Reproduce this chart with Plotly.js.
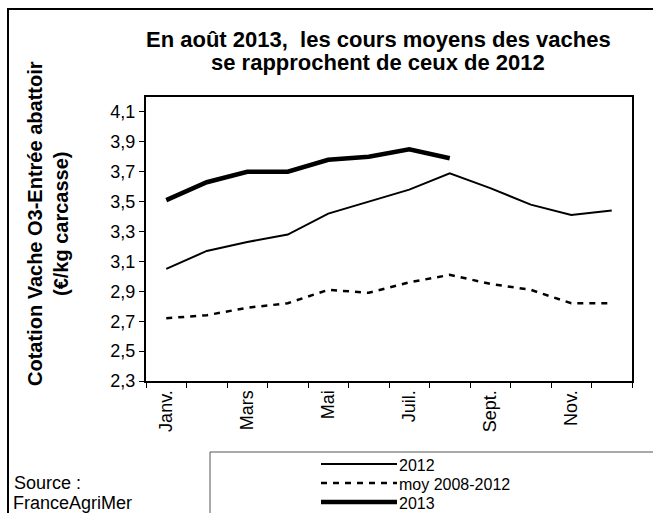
<!DOCTYPE html>
<html>
<head>
<meta charset="utf-8">
<script src="https://cdn.plot.ly/plotly-3.0.1.min.js"></script>
<style>
  body { margin: 0; background: #fff; }
  #plot { width: 653px; height: 513px; }
</style>
</head>
<body>
<div id="plot"></div>
<script>
// months on the x axis, labels shown every other month
let months = ["Janv.", "Févr.", "Mars", "Avr.", "Mai", "Juin", "Juil.", "Août", "Sept.", "Oct.", "Nov.", "Déc."];
let monthLabels = ["Janv.", "", "Mars", "", "Mai", "", "Juil.", "", "Sept.", "", "Nov.", ""];

// prices in €/kg carcasse
let prix2012 = [3.05, 3.17, 3.23, 3.28, 3.42, 3.50, 3.58, 3.69, 3.59, 3.48, 3.41, 3.44];
let prixMoy = [2.72, 2.74, 2.79, 2.82, 2.91, 2.89, 2.96, 3.01, 2.95, 2.91, 2.82, 2.82];
let prix2013 = [3.51, 3.63, 3.70, 3.70, 3.78, 3.80, 3.85, 3.79];

let seriesNames = ["2012", "moy 2008-2012", "2013"];
let yTicks = [2.3, 2.5, 2.7, 2.9, 3.1, 3.3, 3.5, 3.7, 3.9, 4.1];

let font = "'Liberation Sans', Arial, sans-serif";

// line styles shared by the traces and the hand-made legend
let styles = [
    { color: "#000", width: 2 },
    { color: "#000", width: 2.5, dash: "6px,6px" },
    { color: "#000", width: 4.5 }
];

let trace2012 = {
    x: months,
    y: prix2012,
    name: seriesNames[0],
    type: "scatter",
    mode: "lines",
    line: styles[0]
};

let traceMoy = {
    x: months,
    y: prixMoy,
    name: seriesNames[1],
    type: "scatter",
    mode: "lines",
    line: styles[1]
};

let trace2013 = {
    x: months.slice(0, prix2013.length),
    y: prix2013,
    name: seriesNames[2],
    type: "scatter",
    mode: "lines",
    line: styles[2]
};

let data = [trace2012, traceMoy, trace2013];

// plot area is 486 x 284 px, these turn pixel spots into paper coords
let px = v => (v - 146) / 486;
let py = v => (381 - v) / 284;

let shapes = [
    // outer frame (open on the right and bottom)
    { type: "rect", xref: "paper", yref: "paper", x0: px(8), x1: px(700), y0: py(560), y1: py(9),
      line: { color: "#000", width: 2 } },
    // legend box
    { type: "rect", xref: "paper", yref: "paper", x0: px(210), x1: px(700), y0: py(560), y1: py(452),
      line: { color: "#555", width: 1 } }
];

let annotations = [
    {
        text: "<b>En août 2013,  les cours moyens des vaches</b>",
        xref: "paper", yref: "paper", x: px(378), y: py(40),
        xanchor: "center", yanchor: "middle", showarrow: false, font: { size: 22 }
    },
    {
        text: "<b>se rapprochent de ceux de 2012</b>",
        xref: "paper", yref: "paper", x: px(378), y: py(63),
        xanchor: "center", yanchor: "middle", showarrow: false, font: { size: 22 }
    },
    {
        text: "<b>Cotation Vache O3-Entrée abattoir<br>(€/kg carcasse)</b>",
        xref: "paper", yref: "paper", x: px(48), y: py(224),
        xanchor: "center", yanchor: "middle", textangle: -90,
        showarrow: false, font: { size: 20 }
    },
    {
        text: "Source :",
        xref: "paper", yref: "paper", x: px(12), y: py(483),
        xanchor: "left", yanchor: "middle", showarrow: false, font: { size: 18 }
    },
    {
        text: "FranceAgriMer",
        xref: "paper", yref: "paper", x: px(12), y: py(503),
        xanchor: "left", yanchor: "middle", borderpad: 0,
        showarrow: false, font: { size: 18 }
    }
];

// hand-made legend: sample line + label for each series
let legendRows = [464, 483, 502];
seriesNames.forEach((name, i) => {
    shapes.push({
        type: "line", xref: "paper", yref: "paper",
        x0: px(321), x1: px(397), y0: py(legendRows[i]), y1: py(legendRows[i]),
        line: styles[i]
    });
    annotations.push({
        text: name, xref: "paper", yref: "paper",
        x: px(398), y: py(legendRows[i] + 1),
        xanchor: "left", yanchor: "middle", borderpad: 0,
        showarrow: false, font: { size: 16 }
    });
});

let layout = {
    width: 653,
    height: 513,
    font: { family: font, color: "#000" },
    paper_bgcolor: "#fff",
    plot_bgcolor: "#fff",
    showlegend: false,
    margin: { l: 146, r: 21, t: 97, b: 132, pad: 0, autoexpand: false },
    xaxis: {
        type: "category",
        categoryorder: "array",
        categoryarray: months,
        range: [-0.5, 11.5],
        tickvals: months,
        ticktext: monthLabels,
        tickson: "boundaries",
        tickangle: -90,
        ticks: "outside",
        ticklen: 5,
        tickcolor: "#000",
        tickfont: { size: 18 },
        showline: true,
        linecolor: "#000",
        linewidth: 2,
        mirror: true,
        showgrid: false,
        zeroline: false,
        automargin: false
    },
    yaxis: {
        range: [2.3, 4.2],
        tickvals: yTicks,
        ticktext: yTicks.map(v => v.toFixed(1).replace(".", ",")),
        ticks: "outside",
        ticklen: 5,
        tickcolor: "#000",
        tickfont: { size: 18 },
        showline: true,
        linecolor: "#000",
        linewidth: 2,
        mirror: true,
        showgrid: false,
        zeroline: false,
        automargin: false
    },
    shapes: shapes,
    annotations: annotations
};

Plotly.newPlot("plot", data, layout, { displayModeBar: false, staticPlot: true });
</script>
</body>
</html>
